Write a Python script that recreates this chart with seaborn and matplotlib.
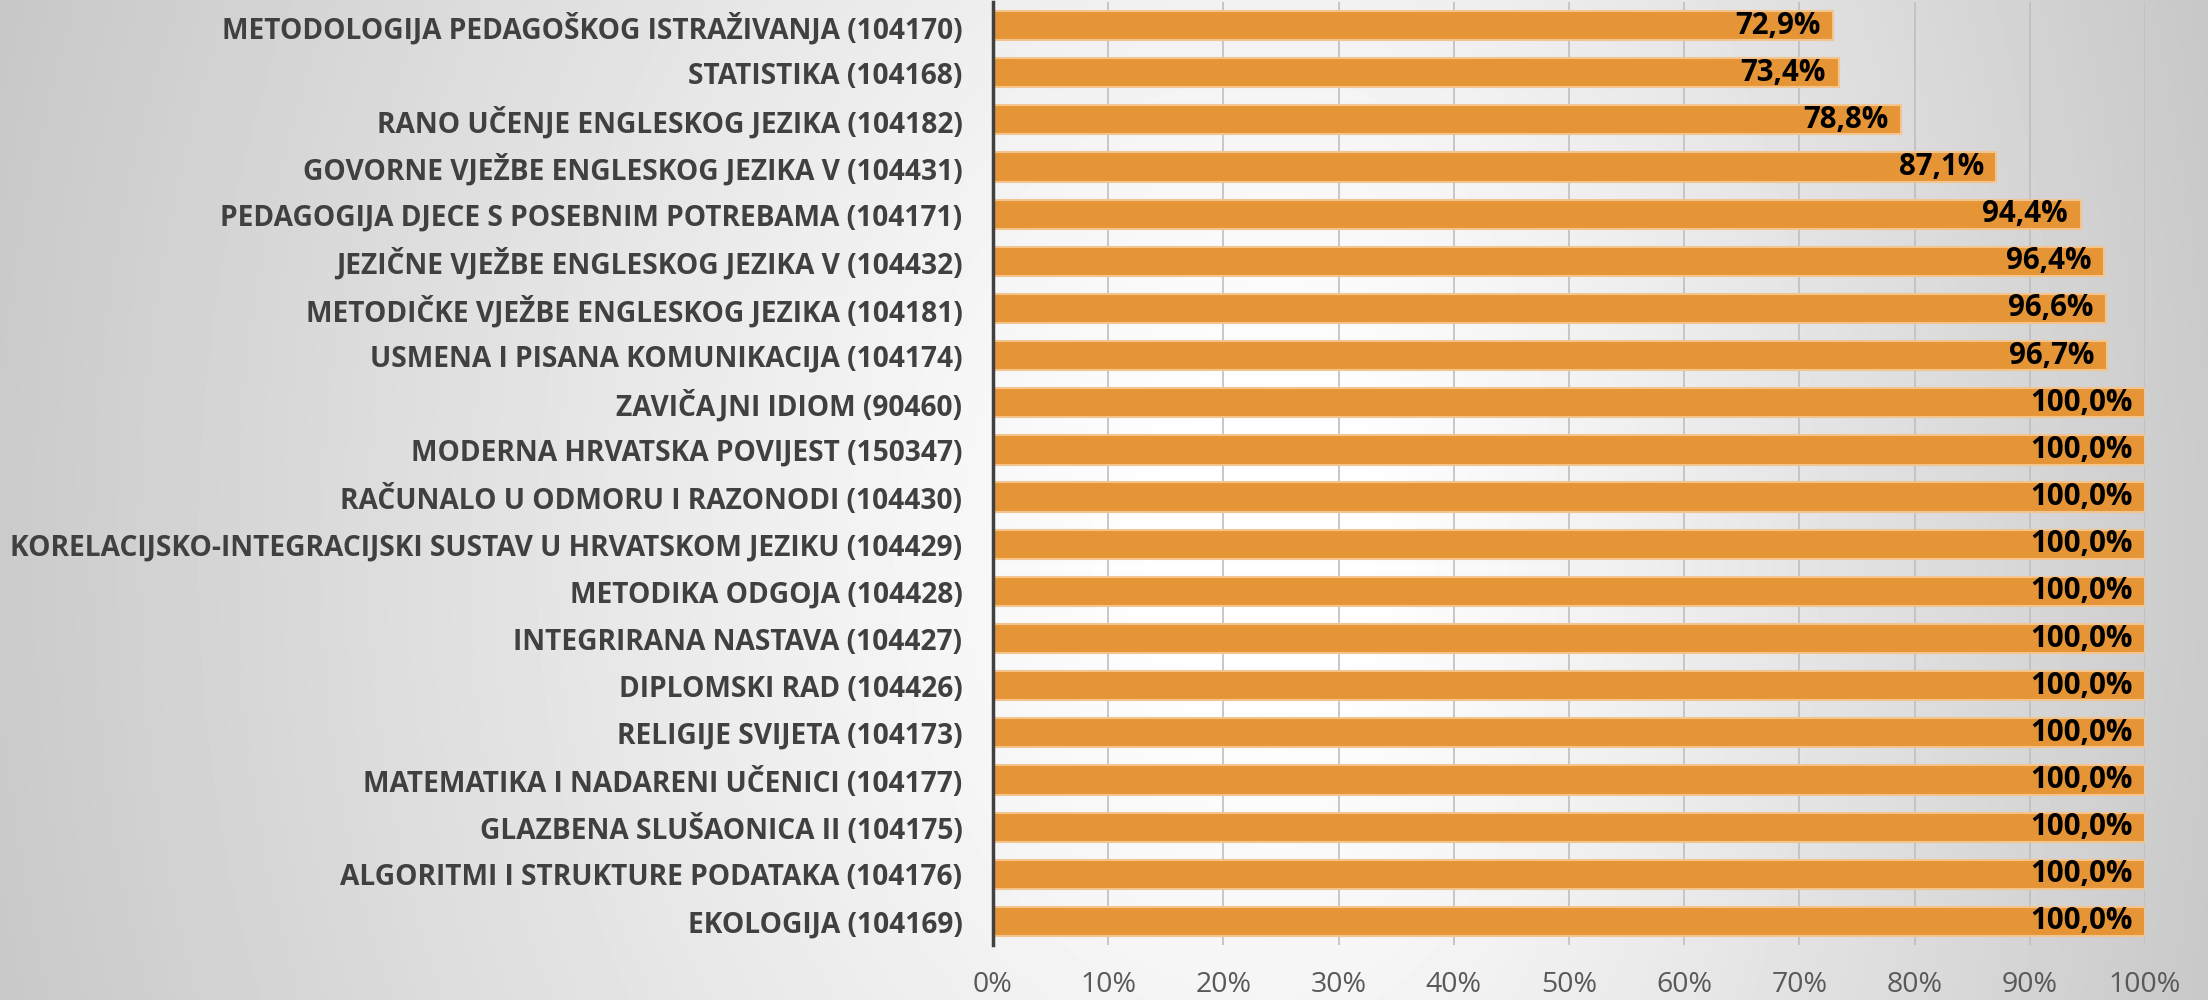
import numpy as np
import pandas as pd
import matplotlib
matplotlib.use("Agg")
import matplotlib.pyplot as plt
import seaborn as sns

courses = [
    "METODOLOGIJA PEDAGOŠKOG ISTRAŽIVANJA (104170)",
    "STATISTIKA (104168)",
    "RANO UČENJE ENGLESKOG JEZIKA (104182)",
    "GOVORNE VJEŽBE ENGLESKOG JEZIKA V (104431)",
    "PEDAGOGIJA DJECE S POSEBNIM POTREBAMA (104171)",
    "JEZIČNE VJEŽBE ENGLESKOG JEZIKA V (104432)",
    "METODIČKE VJEŽBE ENGLESKOG JEZIKA (104181)",
    "USMENA I PISANA KOMUNIKACIJA (104174)",
    "ZAVIČAJNI IDIOM (90460)",
    "MODERNA HRVATSKA POVIJEST (150347)",
    "RAČUNALO U ODMORU I RAZONODI (104430)",
    "KORELACIJSKO-INTEGRACIJSKI SUSTAV U HRVATSKOM JEZIKU (104429)",
    "METODIKA ODGOJA (104428)",
    "INTEGRIRANA NASTAVA (104427)",
    "DIPLOMSKI RAD (104426)",
    "RELIGIJE SVIJETA (104173)",
    "MATEMATIKA I NADARENI UČENICI (104177)",
    "GLAZBENA SLUŠAONICA II (104175)",
    "ALGORITMI I STRUKTURE PODATAKA (104176)",
    "EKOLOGIJA (104169)",
]
values = [72.9, 73.4, 78.8, 87.1, 94.4, 96.4, 96.6, 96.7,
          100.0, 100.0, 100.0, 100.0, 100.0, 100.0, 100.0, 100.0,
          100.0, 100.0, 100.0, 100.0]
x_ticks = [0, 10, 20, 30, 40, 50, 60, 70, 80, 90, 100]

df = pd.DataFrame({"course": courses, "value": values})

sns.set_theme(style="white")
plt.rcParams["font.family"] = ["Open Sans", "DejaVu Sans"]

fig = plt.figure(figsize=(22.08, 10), dpi=100)

# background gradient (mostly horizontal, white around the middle)
bg = fig.add_axes([0, 0, 1, 1], zorder=-10)
H, W = 250, 552
yy, xx = np.mgrid[0:H, 0:W]
xf = xx / (W - 1)
yf = yy / (H - 1)
c = 0.58
tx = np.where(xf < c, (c - xf) / c, (xf - c) / (1 - c))
ty = (yf - 0.55) / 0.55
r = np.sqrt(tx ** 2 + 0.12 * ty ** 2)
img = 1.0 - 0.225 * np.clip(r - 0.08, 0, None) ** 1.1
bg.imshow(img, cmap="gray", vmin=0, vmax=1, aspect="auto", extent=[0, 1, 0, 1],
          interpolation="bilinear")
bg.set_axis_off()

ax = fig.add_axes([0.4497, 0.055, 0.5218, 0.943])
ax.set_facecolor("none")
sns.barplot(data=df, x="value", y="course", orient="h", color="#E69536",
            saturation=1, width=0.62, edgecolor="#F4C48F", linewidth=1.5, ax=ax, zorder=3)

ax.set_xlim(0, 100)
ax.set_ylim(len(courses) - 0.5, -0.5)
ax.set_xticks(x_ticks)
ax.set_xticklabels([f"{t}%" for t in x_ticks], fontsize=20.5, color="#595959")
ax.set_xlabel("")
ax.set_ylabel("")
ax.tick_params(axis="x", length=0, pad=19)
ax.tick_params(axis="y", length=0, pad=22)
for lab in ax.get_yticklabels():
    lab.set_fontsize(20)
    lab.set_fontweight("bold")
    lab.set_color("#404040")

# fit longest category label to the reference width
fig.canvas.draw()
rend = fig.canvas.get_renderer()
widths = [lab.get_window_extent(rend).width for lab in ax.get_yticklabels()]
scale = 955.0 / max(widths)
for lab in ax.get_yticklabels():
    lab.set_fontsize(20 * scale)

ax.grid(axis="x", color="#BFBFBF", linewidth=1.2, zorder=0)
ax.set_axisbelow(True)
for s in ["top", "right", "bottom"]:
    ax.spines[s].set_visible(False)
ax.spines["left"].set_color("#404040")
ax.spines["left"].set_linewidth(2.5)
ax.spines["left"].set_zorder(5)

for i, v in enumerate(values):
    ax.annotate(f"{v:.1f}%".replace(".", ","), xy=(v, i), xytext=(-9, 0),
                textcoords="offset points", ha="right", va="center",
                fontsize=21 * scale, fontweight="bold", color="black", zorder=6)

fig.savefig("out.png", dpi=100)
